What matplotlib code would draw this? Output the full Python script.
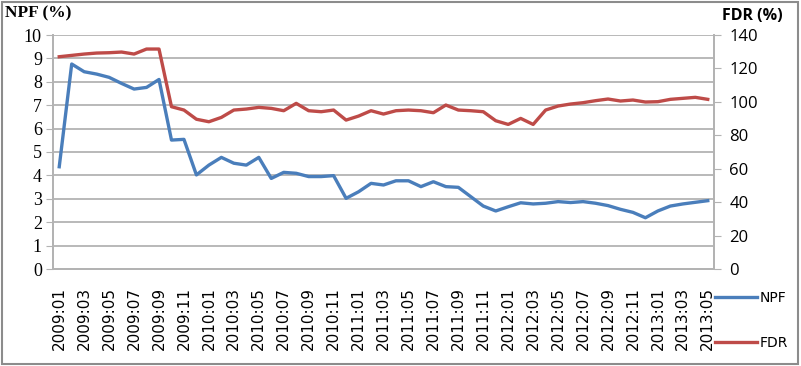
import matplotlib
matplotlib.use("Agg")
import matplotlib.pyplot as plt
from matplotlib.patches import Rectangle
from matplotlib.lines import Line2D

months = [f"{y}:{m:02d}" for y in range(2009, 2014) for m in range(1, 13)][:53]

npf = [4.37, 8.76, 8.43, 8.33, 8.19, 7.93, 7.69, 7.76, 8.10, 5.51,
       5.54, 4.02, 4.44, 4.77, 4.52, 4.44, 4.77, 3.87, 4.13, 4.09,
       3.95, 3.95, 3.99, 3.02, 3.30, 3.66, 3.59, 3.77, 3.77, 3.52,
       3.73, 3.52, 3.49, 3.09, 2.69, 2.48, 2.66, 2.83, 2.78, 2.81,
       2.88, 2.84, 2.88, 2.81, 2.71, 2.55, 2.42, 2.19, 2.48, 2.69,
       2.78, 2.85, 2.92]

fdr = [127.0, 127.8, 128.6, 129.2, 129.4, 129.8, 128.6, 131.6, 131.6, 97.1,
       95.1, 89.6, 88.1, 90.7, 95.1, 95.7, 96.7, 96.1, 94.7, 99.1,
       94.7, 94.1, 95.1, 89.1, 91.5, 94.7, 92.7, 94.7, 95.1, 94.7,
       93.5, 98.1, 95.1, 94.7, 94.1, 88.7, 86.5, 90.1, 86.5, 95.1,
       97.5, 98.7, 99.5, 100.7, 101.7, 100.5, 101.1, 99.9, 100.1, 101.5,
       102.1, 102.7, 101.5]

left_ticks = list(range(0, 11))
right_ticks = list(range(0, 141, 20))

blue = "#4a7ebb"
red = "#be4b48"
grid_c = "#b3b3b3"
narrow = ["Liberation Sans Narrow", "DejaVu Sans"]

fig = plt.figure(figsize=(8.01, 3.66), dpi=100)
ax = fig.add_axes([53/801, 1-269/366, (714-53)/801, (269-35)/366])
ax2 = ax.twinx()

x = list(range(len(months)))
ax.plot(x, npf, color=blue, lw=2.4, solid_joinstyle="round", zorder=3)
ax2.plot(x, fdr, color=red, lw=2.4, solid_joinstyle="round", zorder=3)

ax.set_xlim(-0.5, len(months) - 0.5)
ax.set_ylim(0, 10)
ax2.set_ylim(0, 140)
ax.set_yticks(left_ticks)
ax2.set_yticks(right_ticks)
ax.yaxis.grid(True, color=grid_c, lw=1.3)
ax.set_axisbelow(True)

ax.set_xticks(x[::2])
ax.set_xticklabels(months[::2], rotation=90, fontfamily=narrow, fontsize=11)
ax.tick_params(axis="x", length=0, pad=13)
ax.tick_params(axis="y", length=5, color=grid_c, pad=3)
ax2.tick_params(axis="y", length=5, color=grid_c, pad=6)
for lbl in ax.get_yticklabels():
    lbl.set_fontfamily("Liberation Serif")
    lbl.set_fontsize(13)
for lbl in ax2.get_yticklabels():
    lbl.set_fontfamily("Open Sans")
    lbl.set_fontsize(12)

for a in (ax, ax2):
    a.spines["top"].set_visible(False)
    for s in ("left", "right", "bottom"):
        a.spines[s].set_color(grid_c)
        a.spines[s].set_linewidth(1.3)

fig.text(5/801, 1-13/366, "NPF (%)", fontfamily="Liberation Serif", fontweight="bold",
         fontsize=12.5, ha="left", va="center")
fig.text(722/801, 1-16/366, "FDR (%)", fontfamily="Open Sans", fontweight="bold",
         fontsize=11.5, ha="left", va="center")

h_npf = Line2D([], [], color=blue, lw=2.4)
h_fdr = Line2D([], [], color=red, lw=2.4)
fig.legend([h_npf], ["NPF"], loc="center left", bbox_to_anchor=(715/801, 1-298/366),
           frameon=False, handlelength=3.0, handletextpad=0.2, borderaxespad=0,
           borderpad=0, prop={"family": narrow, "size": 10})
fig.legend([h_fdr], ["FDR"], loc="center left", bbox_to_anchor=(715/801, 1-343/366),
           frameon=False, handlelength=3.0, handletextpad=0.2, borderaxespad=0,
           borderpad=0, prop={"family": narrow, "size": 10})

fig.patches.append(Rectangle((2/801, 2/366), 796/801, 362/366, transform=fig.transFigure,
                             fill=False, edgecolor="#8c8c8c", lw=1.5))

fig.savefig("out.png", dpi=100)
